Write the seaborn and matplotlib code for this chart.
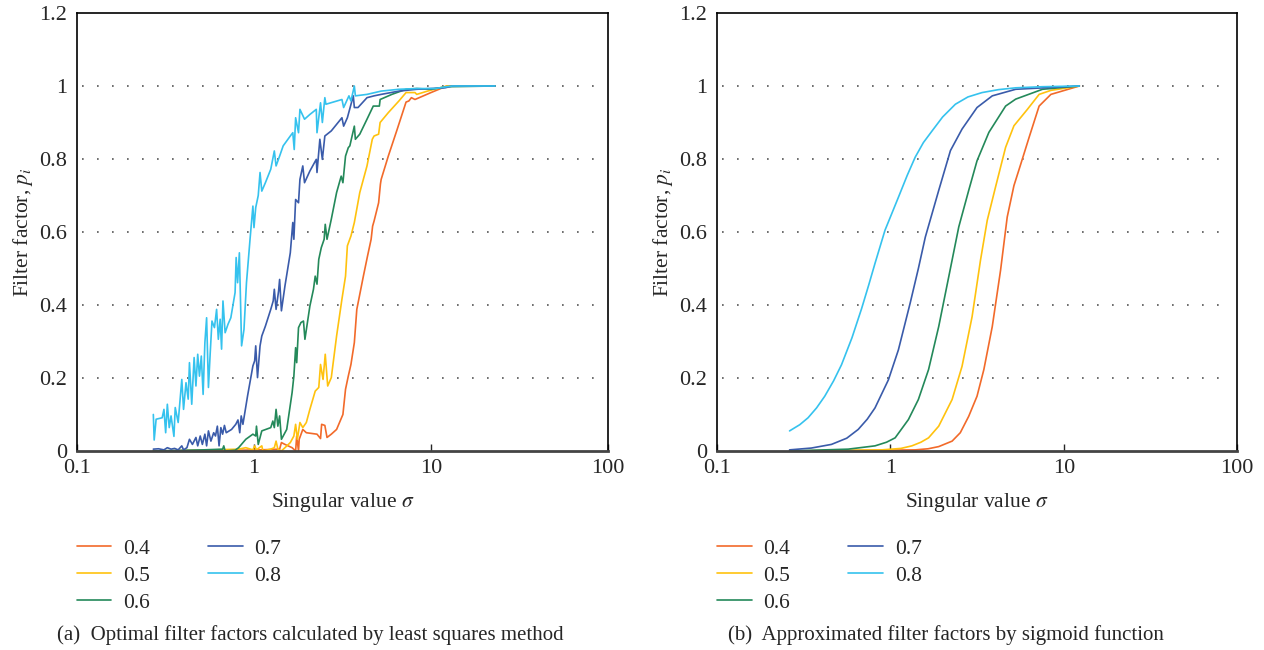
import pandas as pd
import matplotlib.pyplot as plt
import seaborn as sns
from matplotlib.ticker import FixedLocator, FixedFormatter, NullLocator

# ---- data ----
factors = ["0.4", "0.5", "0.6", "0.7", "0.8"]
colors = ["#F26a2a", "#FFC20E", "#24895A", "#3A5BAA", "#35C2EE"]

# (a) least squares: sigma, p
ls_sigma_08 = [0.270, 0.273, 0.280, 0.303, 0.310, 0.317, 0.324, 0.332, 0.340, 0.353, 0.359,
               0.373, 0.391, 0.400, 0.413, 0.425, 0.432, 0.445, 0.459, 0.470, 0.481, 0.492,
               0.504, 0.516, 0.528, 0.540, 0.553, 0.566, 0.579, 0.598, 0.615, 0.629, 0.644,
               0.656, 0.668, 0.687, 0.713, 0.740, 0.782, 0.793, 0.808, 0.827, 0.851, 0.878,
               0.907, 0.950, 0.986, 1.0, 1.023, 1.057, 1.082, 1.107, 1.160, 1.244, 1.303,
               1.333, 1.396, 1.462, 1.604, 1.657, 1.688, 1.719, 1.785, 1.818, 1.930, 2.069,
               2.249, 2.270, 2.377, 2.434, 2.514, 2.549, 3.14, 3.21, 3.44, 3.53, 3.69, 3.74,
               4.35, 5.23, 6.59, 8.31, 10.5, 12.3, 13.2, 23.0]
ls_p_08 = [0.10, 0.03, 0.087, 0.091, 0.114, 0.05, 0.128, 0.064, 0.096, 0.04, 0.119,
           0.078, 0.196, 0.114, 0.187, 0.142, 0.242, 0.128, 0.256, 0.178, 0.265, 0.205,
           0.26, 0.155, 0.297, 0.365, 0.174, 0.269, 0.356, 0.338, 0.388, 0.306, 0.361,
           0.279, 0.411, 0.324, 0.347, 0.365, 0.434, 0.53, 0.461, 0.543, 0.288, 0.333,
           0.461, 0.58, 0.671, 0.612, 0.667, 0.70, 0.763, 0.712, 0.735, 0.772, 0.822,
           0.781, 0.808, 0.836, 0.863, 0.872, 0.826, 0.913, 0.872, 0.936, 0.909, 0.922,
           0.936, 0.872, 0.954, 0.90, 0.968, 0.95, 0.963, 0.941, 0.973, 0.959, 1.0, 0.973,
           0.977, 0.986, 0.991, 0.993, 0.993, 0.998, 1.0, 1.0]

ls_sigma_07 = [0.270, 0.289, 0.310, 0.324, 0.340, 0.356, 0.373, 0.391, 0.400, 0.418, 0.432,
               0.449, 0.470, 0.481, 0.497, 0.511, 0.528, 0.540, 0.553, 0.571, 0.592, 0.606,
               0.621, 0.635, 0.650, 0.665, 0.681, 0.697, 0.747, 0.789, 0.812, 0.831, 0.847,
               0.866, 0.920, 0.986, 1.009, 1.023, 1.047, 1.082, 1.107, 1.160, 1.244, 1.284,
               1.303, 1.333, 1.377, 1.396, 1.429, 1.496, 1.604, 1.657, 1.680, 1.719, 1.785,
               1.818, 1.887, 1.930, 2.069, 2.249, 2.270, 2.356, 2.434, 2.514, 2.734, 3.14,
               3.21, 3.37, 3.64, 3.69, 3.87, 4.35, 4.77, 5.23, 6.59, 8.31, 12.0, 13.2, 23.0]
ls_p_07 = [0.005, 0.006, 0.003, 0.009, 0.005, 0.007, 0.003, 0.014, 0.003, 0.009, 0.032,
           0.018, 0.037, 0.014, 0.041, 0.018, 0.046, 0.014, 0.055, 0.027, 0.050, 0.041,
           0.068, 0.014, 0.064, 0.046, 0.070, 0.050, 0.059, 0.073, 0.085, 0.05, 0.096,
           0.073, 0.151, 0.233, 0.247, 0.288, 0.201, 0.288, 0.315, 0.342, 0.388, 0.411,
           0.443, 0.388, 0.438, 0.47, 0.384, 0.452, 0.543, 0.626, 0.580, 0.689, 0.680,
           0.744, 0.781, 0.735, 0.767, 0.799, 0.763, 0.854, 0.799, 0.863, 0.877, 0.913,
           0.890, 0.913, 0.973, 0.941, 0.941, 0.968, 0.973, 0.977, 0.986, 0.991, 0.995, 1.0, 1.0]

ls_sigma_06 = [0.270, 0.516, 0.665, 0.675, 0.687, 0.782, 0.819, 0.899, 0.986, 1.023, 1.033,
               1.057, 1.107, 1.244, 1.278, 1.303, 1.333, 1.364, 1.396, 1.429, 1.531, 1.642,
               1.680, 1.719, 1.743, 1.785, 1.843, 1.904, 1.940, 2.069, 2.168, 2.218, 2.270,
               2.323, 2.400, 2.491, 2.527, 2.586, 2.734, 2.929, 3.11, 3.18, 3.29, 3.41, 3.48,
               3.69, 3.74, 3.96, 4.35, 4.72, 5.11, 5.16, 6.01, 7.23, 8.31, 10.0, 12.3, 23.0]
ls_p_06 = [0.0, 0.003, 0.005, 0.014, 0.0, 0.002, 0.009, 0.032, 0.046, 0.041, 0.068,
           0.018, 0.055, 0.064, 0.082, 0.064, 0.114, 0.068, 0.096, 0.032, 0.059, 0.160,
           0.205, 0.283, 0.242, 0.338, 0.352, 0.356, 0.306, 0.397, 0.443, 0.479, 0.457,
           0.525, 0.557, 0.580, 0.621, 0.580, 0.635, 0.708, 0.753, 0.735, 0.808, 0.831, 0.836,
           0.890, 0.854, 0.868, 0.909, 0.945, 0.945, 0.963, 0.977, 0.991, 0.993, 0.991, 0.998, 1.0]

ls_sigma_05 = [0.270, 0.516, 0.819, 0.899, 0.986, 1.009, 1.033, 1.107, 1.123, 1.244, 1.303,
               1.333, 1.364, 1.429, 1.496, 1.604, 1.680, 1.719, 1.759, 1.818, 1.887, 1.976,
               2.069, 2.218, 2.323, 2.377, 2.456, 2.527, 2.609, 2.734, 2.929, 3.14, 3.29, 3.37,
               3.53, 3.69, 3.96, 4.35, 4.66, 4.77, 5.06, 5.16, 5.74, 6.59, 7.23, 8.12, 8.31,
               9.55, 12.3, 23.0]
ls_p_05 = [0.0, 0.002, 0.005, 0.009, 0.003, 0.014, 0.003, 0.014, 0.0, 0.005, 0.009,
           0.027, 0.005, 0.0, 0.009, 0.023, 0.041, 0.073, 0.032, 0.078, 0.064, 0.078,
           0.114, 0.164, 0.174, 0.237, 0.196, 0.265, 0.178, 0.201, 0.315, 0.416, 0.479, 0.562,
           0.589, 0.626, 0.708, 0.781, 0.854, 0.863, 0.868, 0.90, 0.927, 0.959, 0.982, 0.982, 0.977,
           0.986, 1.0, 1.0]

ls_sigma_04 = [0.270, 0.819, 1.082, 1.396, 1.429, 1.496, 1.642, 1.719, 1.743, 1.785, 1.801,
               1.887, 1.976, 2.270, 2.377, 2.411, 2.514, 2.586, 2.734, 2.929, 3.18, 3.29,
               3.41, 3.53, 3.69, 3.81, 4.15, 4.38, 4.59, 4.68, 4.77, 5.06, 5.18, 5.23, 5.74,
               6.44, 7.23, 7.50, 7.75, 8.12, 10.0, 12.3, 23.0]
ls_p_04 = [0.0, 0.002, 0.003, 0.005, 0.023, 0.018, 0.009, 0.0, 0.041, 0.0, 0.032,
           0.059, 0.05, 0.046, 0.034, 0.073, 0.070, 0.037, 0.046, 0.059, 0.100, 0.169,
           0.205, 0.237, 0.297, 0.388, 0.479, 0.534, 0.580, 0.616, 0.630, 0.680, 0.731, 0.744, 0.808,
           0.881, 0.956, 0.959, 0.968, 0.963, 0.982, 1.0, 1.0]

# (b) sigmoid approximation: sigma, p
sg_sigma_08 = [0.262, 0.300, 0.335, 0.375, 0.418, 0.470, 0.522, 0.600, 0.682, 0.750, 0.815,
               0.931, 1.112, 1.25, 1.39, 1.55, 1.74, 2.0, 2.37, 2.8, 3.38, 4.2, 5.28, 7.5, 12.3]
sg_p_08 = [0.055, 0.072, 0.091, 0.118, 0.15, 0.192, 0.236, 0.310, 0.39, 0.455, 0.514,
           0.605, 0.695, 0.755, 0.805, 0.845, 0.877, 0.915, 0.95, 0.970, 0.982, 0.990, 0.995, 0.998, 1.0]

sg_sigma_07 = [0.262, 0.350, 0.457, 0.560, 0.652, 0.735, 0.815, 0.974, 1.112, 1.30, 1.45, 1.59,
               1.90, 2.22, 2.59, 3.16, 3.87, 5.28, 12.3]
sg_p_07 = [0.003, 0.008, 0.018, 0.035, 0.059, 0.087, 0.118, 0.195, 0.277, 0.405, 0.500, 0.586,
           0.714, 0.823, 0.882, 0.941, 0.973, 0.991, 1.0]

sg_sigma_06 = [0.262, 0.571, 0.815, 0.950, 1.065, 1.27, 1.45, 1.66, 1.90, 2.17, 2.48, 2.83,
               3.16, 3.70, 4.62, 5.28, 7.54, 12.3]
sg_p_06 = [0.0, 0.005, 0.014, 0.024, 0.036, 0.086, 0.141, 0.223, 0.341, 0.477, 0.614, 0.714,
           0.795, 0.873, 0.945, 0.964, 0.991, 1.0]

sg_sigma_05 = [0.262, 0.891, 1.15, 1.33, 1.50, 1.66, 1.90, 2.27, 2.59, 2.96, 3.31, 3.62, 4.04,
               4.62, 5.16, 6.17, 7.21, 8.43, 12.3]
sg_p_05 = [0.0, 0.003, 0.007, 0.014, 0.024, 0.036, 0.068, 0.141, 0.232, 0.368, 0.523, 0.632,
           0.723, 0.832, 0.891, 0.936, 0.977, 0.988, 1.0]

sg_sigma_04 = [0.262, 1.39, 1.65, 1.90, 2.27, 2.53, 2.83, 3.16, 3.46, 3.87, 4.32, 4.72, 5.16,
               5.65, 6.31, 7.21, 8.43, 12.3]
sg_p_04 = [0.0, 0.003, 0.006, 0.012, 0.027, 0.05, 0.095, 0.15, 0.223, 0.341, 0.495, 0.641,
           0.727, 0.786, 0.859, 0.945, 0.977, 1.0]

y_ticks = [0, 0.2, 0.4, 0.6, 0.8, 1.0, 1.2]
y_tick_labels = ["0", "0.2", "0.4", "0.6", "0.8", "1", "1.2"]
x_ticks = [0.1, 1, 10, 100]
x_tick_labels = ["0.1", "1", "10", "100"]
captions = ["(a)  Optimal filter factors calculated by least squares method",
            "(b)  Approximated filter factors by sigmoid function"]


def long_frame(pairs):
    frames = []
    for name, (s, p) in zip(factors, pairs):
        d = pd.DataFrame({"sigma": s, "p": p})
        d["factor"] = name
        frames.append(d)
    return pd.concat(frames, ignore_index=True)


ls_df = long_frame([(ls_sigma_04, ls_p_04), (ls_sigma_05, ls_p_05), (ls_sigma_06, ls_p_06),
                    (ls_sigma_07, ls_p_07), (ls_sigma_08, ls_p_08)])
sg_df = long_frame([(sg_sigma_04, sg_p_04), (sg_sigma_05, sg_p_05), (sg_sigma_06, sg_p_06),
                    (sg_sigma_07, sg_p_07), (sg_sigma_08, sg_p_08)])

sns.set_style("white")
plt.rcParams["font.family"] = ["Liberation Serif", "DejaVu Serif"]
plt.rcParams["mathtext.fontset"] = "stix"

palette = dict(zip(factors, colors))

fig = plt.figure(figsize=(12.64, 6.5), dpi=100)
ax_a = fig.add_axes([0.0609, 0.3062, 0.4201, 0.6738])
ax_b = fig.add_axes([0.5673, 0.3062, 0.4114, 0.6738])

for ax, df, cap in [(ax_a, ls_df, captions[0]), (ax_b, sg_df, captions[1])]:
    sns.lineplot(data=df, x="sigma", y="p", hue="factor", estimator=None, sort=False,
                 palette=palette, linewidth=1.2, ax=ax)
    ax.set_xscale("log")
    ax.set_xlim(0.1, 100)
    ax.set_ylim(0, 1.2)
    ax.xaxis.set_major_locator(FixedLocator(x_ticks))
    ax.xaxis.set_major_formatter(FixedFormatter(x_tick_labels))
    ax.xaxis.set_minor_locator(NullLocator())
    ax.yaxis.set_major_locator(FixedLocator(y_ticks))
    ax.yaxis.set_major_formatter(FixedFormatter(y_tick_labels))
    ax.tick_params(axis="x", direction="in", length=5, width=1, labelsize=16, pad=6, bottom=True)
    ax.tick_params(axis="y", length=0, labelsize=16, pad=7)
    for y in y_ticks[1:-1]:
        ax.axhline(y, color="#555555", linestyle=(0, (1, 8)), linewidth=1.2, zorder=0,
                   xmin=0.01, xmax=0.985)
    for side in ["top", "right", "left"]:
        ax.spines[side].set_color("black")
        ax.spines[side].set_linewidth(1.2)
    ax.spines["bottom"].set_color("#444444")
    ax.spines["bottom"].set_linewidth(2)
    ax.set_xlabel(r"Singular value $\sigma$", fontsize=15.5, labelpad=9)
    ax.set_ylabel(r"Filter factor, $p_i$", fontsize=15.5, labelpad=3)
    sns.move_legend(ax, "upper left", bbox_to_anchor=(0.0, -0.2), ncol=2, frameon=False,
                    title=None, fontsize=15.5, handlelength=1.6, handletextpad=0.55,
                    columnspacing=2.7, labelspacing=0.33, borderaxespad=0, borderpad=0)
    ax.text(0.44, -0.42, cap, transform=ax.transAxes, ha="center", va="center", fontsize=15)

plt.savefig("out.png", dpi=100)
